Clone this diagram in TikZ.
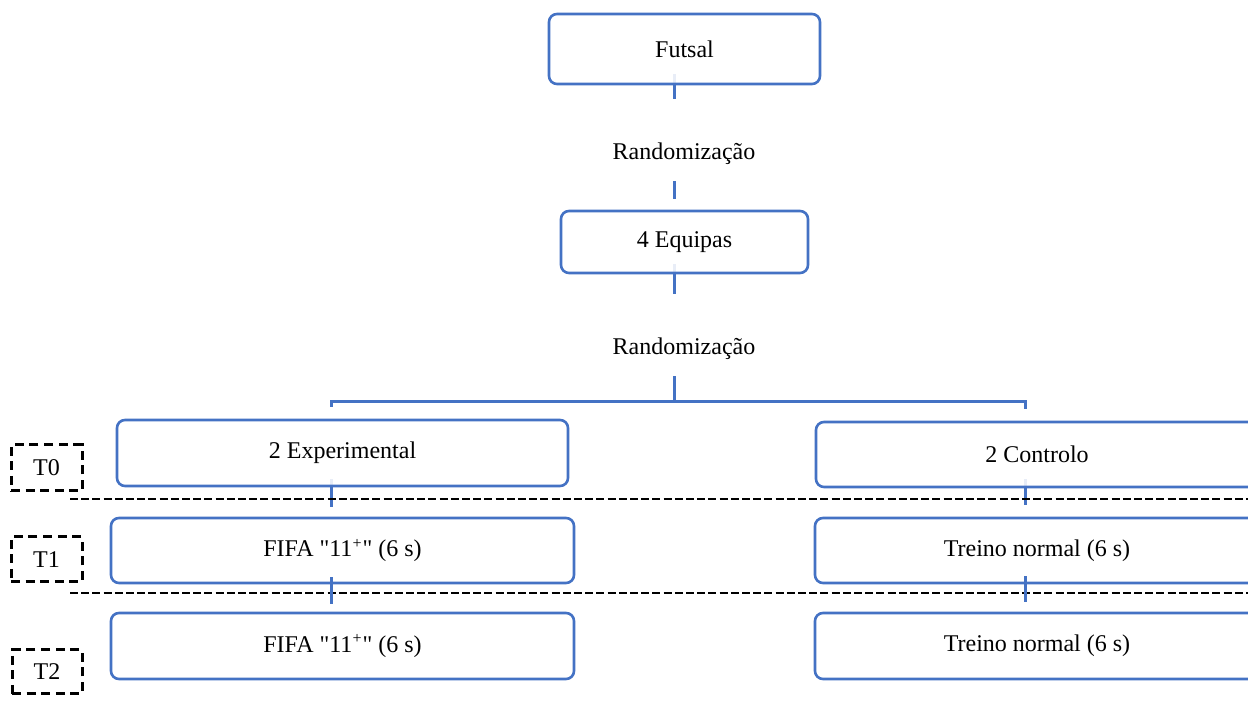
\documentclass[tikz,border=0pt]{standalone}
\usepackage{fontspec}
\setmainfont{Liberation Serif}[Ligatures=TeXOff]
\usetikzlibrary{backgrounds}

\definecolor{boxblue}{RGB}{68,114,196}

\tikzset{every picture/.style={line width=1.3pt}}
\tikzset{
  stepbox/.style={draw=boxblue, rounded corners=4pt, fill=white, fill opacity=0.88, text opacity=1, inner sep=0pt, font=\fontsize{12}{14}\selectfont},
  randlabel/.style={anchor=base, inner sep=0pt, text height=30pt, text depth=10pt, font=\fontsize{12}{14}\selectfont},
  timebox/.style={draw=black, dash pattern=on 4.5pt off 2.8pt, line width=1.5pt, inner sep=0pt, minimum width=35.5pt, minimum height=22.5pt, font=\fontsize{12}{14}\selectfont},
  conn/.style={draw=boxblue, line width=1.5pt},
  phaseline/.style={draw=black, dash pattern=on 4pt off 1.6pt, line width=1.4pt}
}

\begin{document}
\begin{tikzpicture}[x=0.5pt,y=0.5pt,yscale=-1,xscale=1]
\useasboundingbox (0,0) rectangle (1248,704);
\clip (0,0) rectangle (1248,704);

%stub positions of the connectors
\coordinate (stubm) at (674,0);
\coordinate (stubl) at (331,0);
\coordinate (stubr) at (1025,0);
\coordinate (split) at (674,402);

%Shape: Rounded Rect [futsal]
\node [stepbox, minimum width=135.5pt, minimum height=35pt] (futsal) at (684.5,49) {Futsal};
% Text Node
\node [randlabel] (rand1) at (684,160) {Randomização};
%Shape: Rounded Rect [equipas]
\node [stepbox, minimum width=123.5pt, minimum height=31pt] (equipas) at (684.5,242) {4 Equipas};
% Text Node
\node [randlabel] (rand2) at (684,355) {Randomização};

%Shape: Rounded Rect [groups]
\node [stepbox, minimum width=225.5pt, minimum height=33pt] (exper) at (342.5,453) {2 Experimental};
\node [stepbox, minimum width=221pt, minimum height=32.5pt] (contr) at (1037,454.5) {2 Controlo};
\node [stepbox, minimum width=231.5pt, minimum height=32.5pt] (fifa1) at (342.5,550.5) {FIFA "11\textsuperscript{+}" (6 s)};
\node [stepbox, minimum width=231.5pt, minimum height=33pt] (fifa2) at (342.5,646) {FIFA "11\textsuperscript{+}" (6 s)};
\node [stepbox, minimum width=222pt, minimum height=32.5pt] (treino1) at (1037,550.5) {Treino normal (6 s)};
\node [stepbox, minimum width=222pt, minimum height=33pt] (treino2) at (1037,646) {Treino normal (6 s)};

%Shape: Dashed Rect [time points]
\node [timebox, minimum height=23pt] (t0) at (46.5,468) {T0};
\node [timebox] (t1) at (46.5,559.5) {T1};
\node [timebox, minimum width=35pt, minimum height=22pt] (t2) at (47,672) {T2};

%Straight Lines [phase separators]
\draw [phaseline] (70,499) -- (1260,499);
\draw [phaseline] (70,593) -- (1260,593);

%Connectors under the boxes
\begin{pgfonlayer}{background}
\draw [conn, shorten <=-5.5pt] (futsal.south -| stubm) -- (rand1.north -| stubm);
\draw [conn, shorten >=5.5pt] (rand1.south -| stubm) -- (equipas.north -| stubm);
\draw [conn, shorten <=-5pt] (equipas.south -| stubm) -- (rand2.north -| stubm);
\draw [conn] (rand2.south -| stubm) -- (split);
\draw [conn, shorten >=6pt] (split) -| (exper.north -| stubl);
\draw [conn, shorten >=6pt] (split) -| (contr.north -| stubr);
\draw [conn, shorten <=-4pt, shorten >=5pt] (exper.south -| stubl) -- (fifa1.north -| stubl);
\draw [conn, shorten <=-4.5pt, shorten >=6pt] (contr.south -| stubr) -- (treino1.north -| stubr);
\end{pgfonlayer}

%Connectors over the boxes
\draw [conn, shorten <=-3.5pt, shorten >=4pt] (fifa1.south -| stubl) -- (fifa2.north -| stubl);
\draw [conn, shorten <=-4pt, shorten >=5pt] (treino1.south -| stubr) -- (treino2.north -| stubr);

\end{tikzpicture}
\end{document}
